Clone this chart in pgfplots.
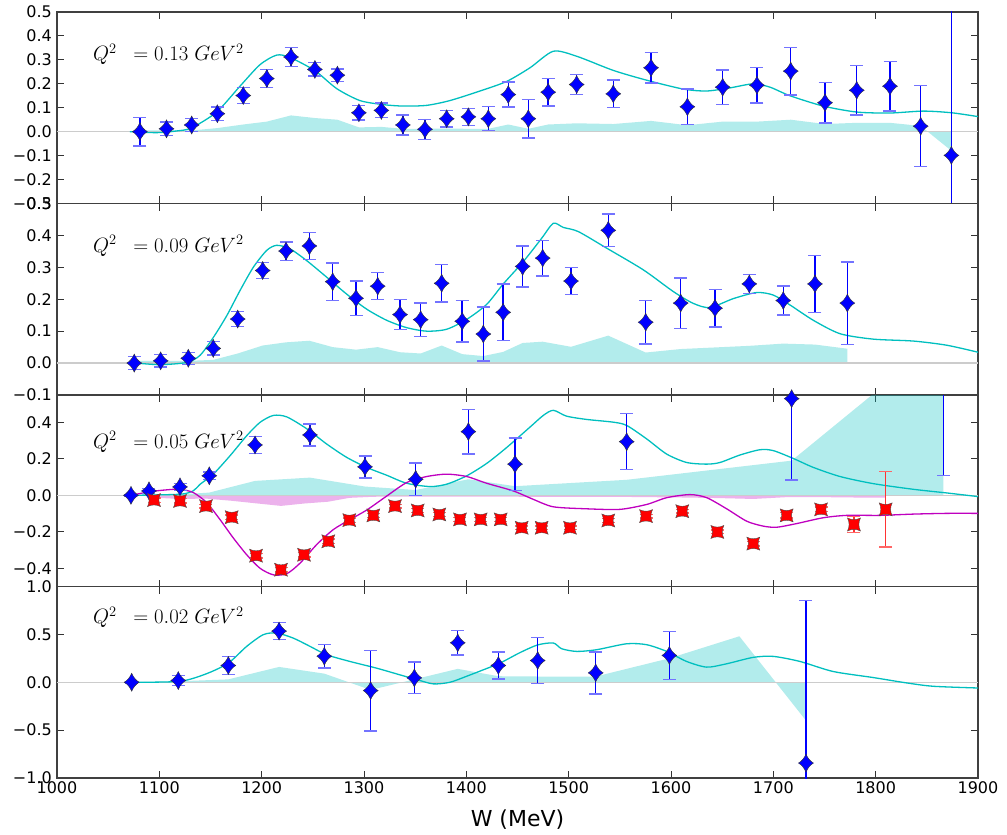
\documentclass[border=0pt]{standalone}
\usepackage{pgfplots}
\pgfplotsset{compat=1.18}
\usepackage{fontspec}
\newfontfamily\dejavu{DejaVu Sans}
\definecolor{cyc}{rgb}{0,0.75,0.75}
\definecolor{mgc}{rgb}{0.75,0,0.75}

\pgfdeclareplotmark{star4}{%
  \pgfpathmoveto{\pgfqpoint{0pt}{1.2\pgfplotmarksize}}%
  \pgfpathquadraticcurveto{\pgfqpoint{0.36\pgfplotmarksize}{0.36\pgfplotmarksize}}{\pgfqpoint{\pgfplotmarksize}{0pt}}%
  \pgfpathquadraticcurveto{\pgfqpoint{0.36\pgfplotmarksize}{-0.36\pgfplotmarksize}}{\pgfqpoint{0pt}{-1.2\pgfplotmarksize}}%
  \pgfpathquadraticcurveto{\pgfqpoint{-0.36\pgfplotmarksize}{-0.36\pgfplotmarksize}}{\pgfqpoint{-\pgfplotmarksize}{0pt}}%
  \pgfpathquadraticcurveto{\pgfqpoint{-0.36\pgfplotmarksize}{0.36\pgfplotmarksize}}{\pgfqpoint{0pt}{1.2\pgfplotmarksize}}%
  \pgfpathclose
  \pgfusepathqfillstroke
}
\pgfdeclareplotmark{sq4}{%
  \pgfpathmoveto{\pgfqpoint{-\pgfplotmarksize}{\pgfplotmarksize}}%
  \pgfpathquadraticcurveto{\pgfqpoint{0pt}{0.5\pgfplotmarksize}}{\pgfqpoint{\pgfplotmarksize}{\pgfplotmarksize}}%
  \pgfpathquadraticcurveto{\pgfqpoint{0.5\pgfplotmarksize}{0pt}}{\pgfqpoint{\pgfplotmarksize}{-\pgfplotmarksize}}%
  \pgfpathquadraticcurveto{\pgfqpoint{0pt}{-0.5\pgfplotmarksize}}{\pgfqpoint{-\pgfplotmarksize}{-\pgfplotmarksize}}%
  \pgfpathquadraticcurveto{\pgfqpoint{-0.5\pgfplotmarksize}{0pt}}{\pgfqpoint{-\pgfplotmarksize}{\pgfplotmarksize}}%
  \pgfpathclose
  \pgfusepathqfillstroke
}

\tikzset{qlab/.style={anchor=west, inner sep=0pt, font=\fontsize{20}{20}\selectfont}}
\pgfplotsset{
  panel/.style={
    scale only axis, width=921pt, height=191.5pt,
    xmin=1000, xmax=1900,
    xtick={1000,1100,...,1900},
    tick align=inside,
    major tick length=7pt,
    axis line style={line width=1.3pt, black!75},
    tick style={black!80, line width=0.9pt},
    yticklabel style={font=\dejavu\fontsize{16}{16}\selectfont, inner sep=0pt, xshift=-5pt},
    xticklabel style={font=\dejavu\fontsize{16}{16}\selectfont},
    clip=true,
    anchor=north west,
  },
  band/.style={fill=cyc, fill opacity=0.3, draw=none, forget plot},
  mband/.style={fill=mgc, fill opacity=0.3, draw=none, forget plot},
  zline/.style={draw=black!20, line width=1.5pt, forget plot},
  ccurve/.style={cyc, line width=1.3pt, smooth, tension=0.45, forget plot},
  mcurve/.style={mgc, line width=1.3pt, smooth, tension=0.45, forget plot},
  bpts/.style={only marks, mark=star4, mark size=7.5pt,
    mark options={fill=blue, draw=black!80, line width=0.4pt},
    error bars/.cd, y dir=both, y explicit,
    error bar style={draw=blue, line width=1.5pt},
    error mark options={rotate=90, draw=blue!55, line width=1.4pt, mark size=6.5pt}},
  rpts/.style={only marks, mark=sq4, mark size=6.5pt,
    mark options={fill=red, draw=black!70, line width=0.4pt},
    error bars/.cd, y dir=both, y explicit,
    error bar style={draw=red!80, line width=1.5pt},
    error mark options={rotate=90, draw=red!60, line width=1.4pt, mark size=6.5pt}},
}

\begin{document}
\begin{tikzpicture}

% ---------------- Panel 1: Q^2 = 0.13
\begin{axis}[panel, at={(57pt,-12pt)},
  ymin=-0.3, ymax=0.5,
  ytick={-0.3,-0.2,-0.1,0,0.1,0.2,0.3,0.4,0.5},
  yticklabels={−0.3,−0.2,−0.1,0.0,0.1,0.2,0.3,0.4,0.5},
  xticklabel=\empty]
\addplot[band] coordinates {(1081,0) (1081,0.005) (1107,0.005) (1131.6,0.005) (1156.7,0.015) (1182,0.03) (1205,0.042) (1228.7,0.068) (1252,0.057) (1274,0.05) (1295,0.018) (1317,0.02) (1338,0.012) (1359.6,0.012) (1380.8,0.013) (1402,0.012) (1421.5,0.012) (1441,0.03) (1460.6,0.012) (1480,0.03) (1507.8,0.035) (1543.6,0.032) (1580.5,0.045) (1616,0.027) (1650.5,0.042) (1684,0.042) (1717,0.05) (1750.5,0.032) (1781.5,0.037) (1814,0.037) (1844,0.024) (1874,-0.08) (1874,0)} \closedcycle;
\addplot[zline] coordinates {(1000,0) (1900,0)};
\addplot[ccurve] coordinates {(1071.3,0) (1097.4,-0.004) (1117,0.003) (1131.6,0.016) (1156,0.082) (1178.8,0.19) (1198.4,0.28) (1214.7,0.32) (1227.7,0.31) (1252,0.255) (1273.3,0.18) (1296,0.13) (1318.9,0.113) (1338.4,0.107) (1361.3,0.11) (1384,0.13) (1413.4,0.17) (1439.4,0.21) (1462.2,0.267) (1485,0.336) (1507.9,0.315) (1543.6,0.256) (1576.3,0.215) (1612,0.178) (1634.9,0.17) (1657.7,0.183) (1680.4,0.2) (1696.7,0.186) (1716.3,0.15) (1748.8,0.107) (1781.5,0.082) (1814,0.078) (1846.6,0.086) (1874.3,0.079) (1900,0.063)};
\addplot[bpts] table[x index=0, y index=1, y error index=2, row sep=\\] {
1081 0.000 0.060\\ 1107 0.012 0.028\\ 1131.6 0.028 0.027\\ 1156.7 0.075 0.028\\
1182 0.151 0.033\\ 1205 0.222 0.038\\ 1228.7 0.312 0.040\\ 1252 0.260 0.028\\
1274 0.236 0.026\\ 1295 0.079 0.030\\ 1317 0.089 0.030\\ 1338 0.028 0.042\\
1359.6 0.010 0.042\\ 1380.8 0.054 0.035\\ 1402 0.062 0.035\\ 1421.5 0.054 0.050\\
1441 0.155 0.052\\ 1460.6 0.054 0.080\\ 1480 0.165 0.057\\ 1507.8 0.197 0.041\\
1543.6 0.158 0.058\\ 1580.5 0.267 0.064\\ 1616 0.104 0.074\\ 1650.5 0.186 0.072\\
1684 0.194 0.074\\ 1717 0.253 0.099\\ 1750.5 0.121 0.085\\ 1781.5 0.173 0.104\\
1814 0.190 0.103\\ 1844 0.023 0.169\\ 1874 -0.099 0.700\\
};
\node[qlab] at (axis cs:1035,0.322) {$Q^2\hspace{11pt}= 0.13\ GeV^2$};
\end{axis}

% ---------------- Panel 2: Q^2 = 0.09
\begin{axis}[panel, at={(57pt,-203.5pt)},
  ymin=-0.1, ymax=0.5,
  ytick={-0.1,0,0.1,0.2,0.3,0.4,0.5},
  yticklabels={−0.1,0.0,0.1,0.2,0.3,0.4,0.5},
  xticklabel=\empty]
\addplot[band] coordinates {(1075.5,0) (1075.5,0.007) (1101.3,0.007) (1128.3,0.007) (1152.7,0.01) (1176.6,0.03) (1201,0.055) (1223.8,0.065) (1246.6,0.07) (1269.4,0.05) (1292.2,0.042) (1313.4,0.05) (1335.2,0.034) (1355.4,0.03) (1375.9,0.055) (1396,0.028) (1416.6,0.022) (1436,0.035) (1455,0.063) (1474.6,0.067) (1502.3,0.051) (1538.7,0.086) (1575.3,0.033) (1609.5,0.044) (1643,0.049) (1676.5,0.054) (1709.7,0.061) (1740.7,0.058) (1772.3,0.045) (1772.3,0)} \closedcycle;
\addplot[zline] coordinates {(1000,0) (1900,0)};
\addplot[ccurve] coordinates {(1077.9,0) (1100.7,-0.005) (1126.7,0.002) (1139.7,0.024) (1152.7,0.08) (1165.8,0.148) (1178.8,0.227) (1191.8,0.3) (1204.9,0.353) (1214.7,0.369) (1227.7,0.358) (1244,0.321) (1263.6,0.269) (1283.1,0.216) (1302.6,0.169) (1322.2,0.134) (1341.7,0.111) (1361.3,0.1) (1380.8,0.106) (1400.4,0.137) (1419.9,0.184) (1436.1,0.248) (1455.7,0.318) (1473.6,0.391) (1485,0.438) (1494.8,0.425) (1509.4,0.412) (1537.2,0.36) (1573,0.292) (1602.3,0.224) (1621.8,0.187) (1638.1,0.174) (1660.9,0.202) (1683.7,0.221) (1700,0.213) (1716.3,0.182) (1739.1,0.134) (1765.2,0.092) (1797.7,0.075) (1836.8,0.069) (1869.4,0.056) (1900,0.034)};
\addplot[bpts] table[x index=0, y index=1, y error index=2, row sep=\\] {
1075.5 0.000 0.021\\ 1101.3 0.007 0.019\\ 1128.3 0.015 0.019\\ 1152.7 0.046 0.021\\
1176.6 0.138 0.024\\ 1201 0.290 0.025\\ 1223.8 0.351 0.029\\ 1246.6 0.367 0.042\\
1269.4 0.255 0.059\\ 1292.2 0.203 0.054\\ 1313.4 0.241 0.042\\ 1335.2 0.152 0.047\\
1355.4 0.136 0.052\\ 1375.9 0.250 0.059\\ 1396 0.131 0.065\\ 1416.6 0.091 0.085\\
1436 0.159 0.089\\ 1455 0.303 0.064\\ 1474.6 0.329 0.056\\ 1502.3 0.257 0.043\\
1538.7 0.416 0.051\\ 1575.3 0.128 0.068\\ 1609.5 0.188 0.079\\ 1643 0.172 0.059\\
1676.5 0.248 0.030\\ 1709.7 0.196 0.045\\ 1740.7 0.248 0.090\\ 1772.3 0.188 0.129\\
};
\node[qlab] at (axis cs:1035,0.368) {$Q^2\hspace{11pt}= 0.09\ GeV^2$};
\end{axis}

% ---------------- Panel 3: Q^2 = 0.05
\begin{axis}[panel, at={(57pt,-395pt)},
  ymin=-0.5, ymax=0.55,
  ytick={-0.4,-0.2,0,0.2,0.4},
  yticklabels={−0.4,−0.2,0.0,0.2,0.4},
  xticklabel=\empty]
\addplot[band] coordinates {(1072.3,0) (1089.9,0.003) (1120.2,0.005) (1148.8,0.015) (1193.5,0.079) (1247.2,0.097) (1301,0.048) (1350.5,0.029) (1402,0.088) (1447.6,0.05) (1556.7,0.085) (1717.9,0.19) (1866.1,0.87) (1866.1,0)} \closedcycle;
\addplot[mband] coordinates {(1094.8,0) (1094.8,-0.013) (1120.2,-0.02) (1145.6,-0.018) (1170.7,-0.03) (1194.5,-0.044) (1218.9,-0.058) (1241.4,-0.045) (1265.1,-0.035) (1285.6,-0.014) (1309.1,-0.008) (1330.3,-0.007) (1352.5,-0.007) (1373.6,-0.007) (1393.8,-0.007) (1414,-0.007) (1433.6,-0.007) (1454.1,-0.008) (1473.6,-0.008) (1501.3,-0.008) (1538.7,-0.008) (1575.6,-0.01) (1611,-0.012) (1645.3,-0.015) (1680.4,-0.02) (1713,-0.01) (1746.6,-0.01) (1778.8,-0.012) (1809.8,-0.012) (1809.8,0)} \closedcycle;
\addplot[zline] coordinates {(1000,0) (1900,0)};
\addplot[ccurve] coordinates {(1072.3,0) (1120.2,0.006) (1133.2,0.025) (1139.7,0.06) (1152.7,0.116) (1169.1,0.217) (1185.4,0.327) (1198.4,0.40) (1211.4,0.438) (1224.5,0.43) (1244,0.365) (1263.6,0.281) (1283.1,0.208) (1302.6,0.153) (1322.2,0.11) (1341.7,0.066) (1364.5,0.048) (1380.8,0.061) (1400.4,0.107) (1419.9,0.175) (1439.4,0.262) (1462.2,0.374) (1475.2,0.438) (1485,0.466) (1498,0.434) (1517.6,0.416) (1543.6,0.401) (1556.7,0.383) (1576.3,0.309) (1595.8,0.226) (1615.3,0.18) (1634.9,0.171) (1647.9,0.18) (1667.4,0.221) (1687,0.25) (1700,0.245) (1719.5,0.202) (1739.1,0.153) (1765.2,0.103) (1797.7,0.064) (1836.8,0.033) (1869.4,0.013) (1900,-0.007)};
\addplot[mcurve] coordinates {(1072.3,0) (1090.9,0.02) (1107.2,0.03) (1120.2,0.033) (1133.2,0.015) (1146.3,-0.04) (1159.3,-0.133) (1172.3,-0.234) (1185.4,-0.326) (1198.4,-0.40) (1211.4,-0.436) (1224.5,-0.43) (1237.5,-0.372) (1253.8,-0.27) (1270,-0.188) (1286.3,-0.133) (1302.6,-0.081) (1322.2,-0.004) (1341.7,0.07) (1361.3,0.103) (1380.8,0.116) (1400.4,0.103) (1419.9,0.066) (1445.9,0.024) (1465.4,-0.022) (1485,-0.063) (1517.6,-0.074) (1550.2,-0.077) (1576.3,-0.05) (1595.8,-0.013) (1618.6,0.004) (1634.9,-0.013) (1654.4,-0.074) (1674,-0.142) (1690.2,-0.169) (1703.3,-0.175) (1722.8,-0.155) (1748.8,-0.123) (1771.7,-0.11) (1804.2,-0.11) (1836.8,-0.103) (1869.4,-0.099) (1900,-0.099)};
\addplot[bpts] table[x index=0, y index=1, y error index=2, row sep=\\] {
1072.3 0.000 0.005\\ 1089.9 0.024 0.015\\ 1120.2 0.046 0.020\\ 1148.8 0.107 0.020\\
1193.5 0.276 0.048\\ 1247.2 0.331 0.060\\ 1301 0.156 0.060\\ 1350.5 0.088 0.089\\
1402 0.349 0.122\\ 1447.6 0.171 0.143\\ 1556.7 0.294 0.153\\ 1717.9 0.530 0.445\\
1866.1 0.900 0.790\\
};
\addplot[rpts] table[x index=0, y index=1, y error index=2, row sep=\\] {
1094.8 -0.026 0.012\\ 1120.2 -0.031 0.012\\ 1145.6 -0.059 0.010\\ 1170.7 -0.120 0.012\\
1194.5 -0.331 0.012\\ 1218.9 -0.408 0.012\\ 1241.4 -0.326 0.012\\ 1265.1 -0.252 0.012\\
1285.6 -0.136 0.012\\ 1309.1 -0.110 0.010\\ 1330.3 -0.059 0.010\\ 1352.5 -0.083 0.010\\
1373.6 -0.105 0.010\\ 1393.8 -0.132 0.010\\ 1414 -0.132 0.010\\ 1433.6 -0.132 0.010\\
1454.1 -0.178 0.010\\ 1473.6 -0.178 0.010\\ 1501.3 -0.178 0.010\\ 1538.7 -0.138 0.010\\
1575.6 -0.114 0.010\\ 1611 -0.087 0.010\\ 1645.3 -0.201 0.010\\ 1680.4 -0.265 0.012\\
1713 -0.110 0.015\\ 1746.6 -0.077 0.012\\ 1778.8 -0.160 0.043\\ 1809.8 -0.077 0.207\\
};
\node[qlab] at (axis cs:1035,0.292) {$Q^2\hspace{11pt}= 0.05\ GeV^2$};
\end{axis}

% ---------------- Panel 4: Q^2 = 0.02
\begin{axis}[panel, at={(57pt,-586.5pt)},
  ymin=-1, ymax=1,
  ytick={-1,-0.5,0,0.5,1},
  yticklabels={−1.0,−0.5,0.0,0.5,1.0},
  xticklabels={1000,1100,1200,1300,1400,1500,1600,1700,1800,1900},
  xlabel={W (MeV)},
  xlabel style={font=\dejavu\fontsize{22}{22}\selectfont, yshift=-9pt}]
\addplot[band] coordinates {(1073,0) (1118.5,0.01) (1167.4,0.03) (1217,0.16) (1261.2,0.09) (1306.5,-0.08) (1349.2,0.03) (1391.6,0.14) (1431.3,0.063) (1469.7,0.06) (1526.4,0.06) (1598.4,0.25) (1666.8,0.48) (1731.9,-0.4) (1731.9,0)} \closedcycle;
\addplot[zline] coordinates {(1000,0) (1900,0)};
\addplot[ccurve] coordinates {(1073,0) (1120.2,0.01) (1146.3,0.09) (1167.4,0.20) (1185.4,0.375) (1201.6,0.497) (1214.7,0.514) (1230.9,0.461) (1247.2,0.375) (1263.6,0.287) (1286.3,0.217) (1312.4,0.147) (1335.2,0.077) (1351.5,0.028) (1367.7,-0.017) (1384,0) (1400.4,0.063) (1416.6,0.13) (1432.9,0.2) (1452.5,0.31) (1469.7,0.39) (1485,0.41) (1493.2,0.35) (1507.9,0.322) (1527.4,0.34) (1556.7,0.402) (1576.3,0.392) (1595.8,0.322) (1615.3,0.217) (1634.9,0.158) (1654.4,0.193) (1680.4,0.26) (1700,0.27) (1726.1,0.217) (1758.6,0.112) (1797.7,0.049) (1830.3,-0.007) (1856.3,-0.042) (1900,-0.06)};
\addplot[bpts] table[x index=0, y index=1, y error index=2, row sep=\\] {
1073 0.000 0.010\\ 1118.5 0.018 0.050\\ 1167.4 0.175 0.096\\ 1217 0.534 0.087\\
1261.2 0.272 0.124\\ 1306.5 -0.087 0.420\\ 1349.2 0.046 0.166\\ 1391.6 0.412 0.127\\
1431.3 0.175 0.143\\ 1469.7 0.227 0.240\\ 1526.4 0.098 0.220\\ 1598.4 0.280 0.253\\
1731.9 -0.844 1.700\\
};
\node[qlab] at (axis cs:1035,0.677) {$Q^2\hspace{11pt}= 0.02\ GeV^2$};
\end{axis}

\pgfresetboundingbox
\path[use as bounding box] (0,0) rectangle (1007pt,-835pt);
\end{tikzpicture}
\end{document}
